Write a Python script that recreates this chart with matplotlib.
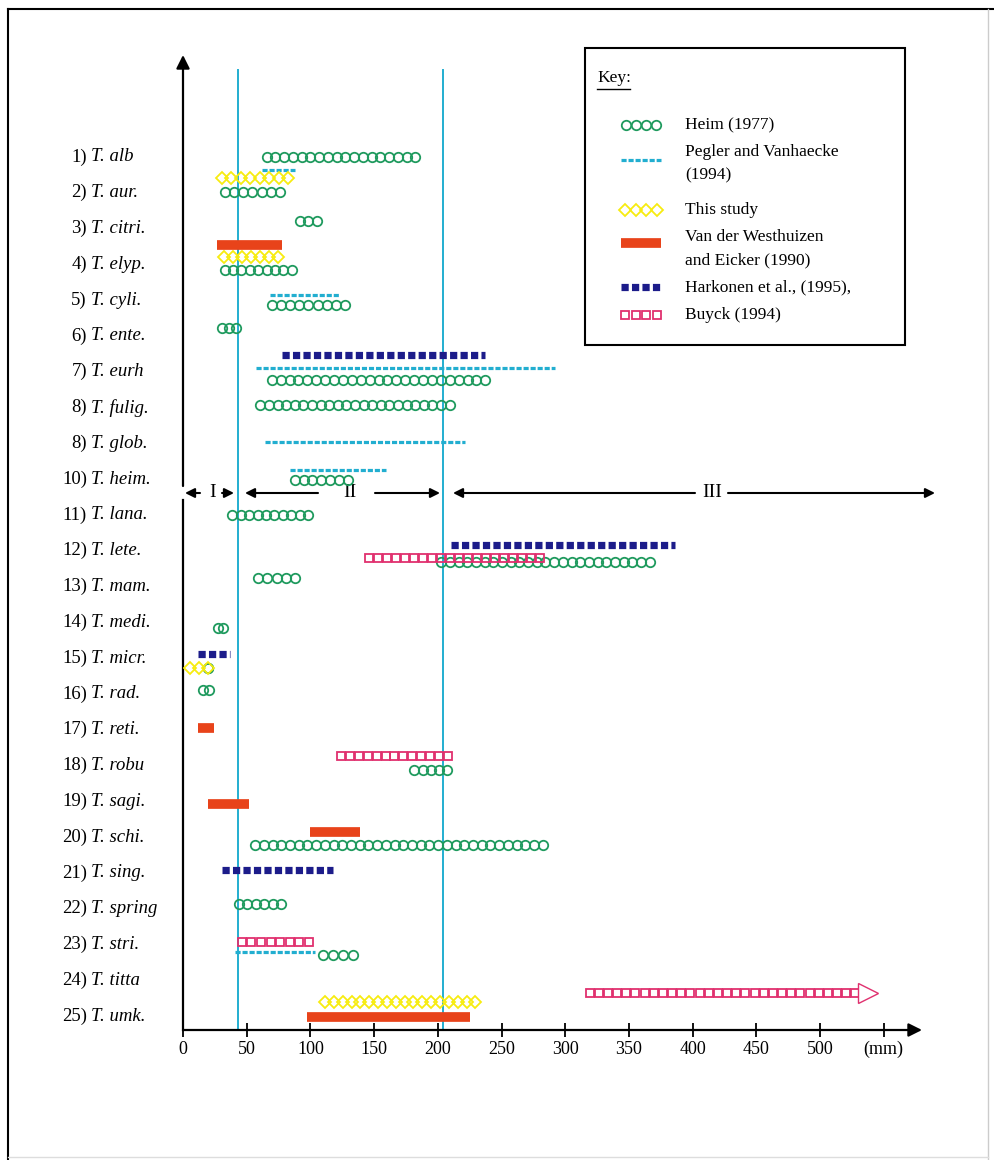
import matplotlib.pyplot as plt
import numpy as np

plt.rcParams['font.family'] = ['Liberation Serif', 'DejaVu Serif']

# species labels (the original figure numbers T. glob. as "8)" too)
numbers = ['1)', '2)', '3)', '4)', '5)', '6)', '7)', '8)', '8)', '10)', '11)', '12)', '13)',
           '14)', '15)', '16)', '17)', '18)', '19)', '20)', '21)', '22)', '23)', '24)', '25)']
species = ['T. alb', 'T. aur.', 'T. citri.', 'T. elyp.', 'T. cyli.', 'T. ente.', 'T. eurh',
           'T. fulig.', 'T. glob.', 'T. heim.', 'T. lana.', 'T. lete.', 'T. mam.', 'T. medi.',
           'T. micr.', 'T. rad.', 'T. reti.', 'T. robu', 'T. sagi.', 'T. schi.', 'T. sing.',
           'T. spring', 'T. stri.', 'T. titta', 'T. umk.']

# size ranges (mm) per source: species number, start, end
heim_rows = [1, 2, 3, 4, 5, 6, 7, 8, 10, 11, 12, 13, 14, 15, 16, 18, 20, 22, 23]
heim_start = [62, 29, 88, 29, 66, 27, 66, 57, 84, 35, 199, 55, 24, 16, 12, 178, 53, 40, 106]
heim_end = [186, 80, 109, 89, 131, 45, 241, 213, 133, 102, 370, 92, 35, 23, 24, 211, 286, 81, 137]

pegler_rows = [1, 5, 7, 9, 10, 23]
pegler_start = [62, 68, 57, 64, 84, 41]
pegler_end = [88, 123, 292, 221, 159, 104]

study_rows = [2, 4, 15, 25]
study_start = [27, 29, 2, 108]
study_end = [86, 78, 23, 233]

vdw_rows = [4, 17, 19, 20, 25]
vdw_start = [27, 12, 20, 100, 97]
vdw_end = [78, 24, 52, 139, 225]

hark_rows = [7, 12, 15, 21]
hark_start = [78, 210, 12, 31]
hark_end = [237, 386, 37, 118]

buyck_rows = [12, 18, 23, 24]
buyck_start = [143, 121, 43, 316]
buyck_end = [283, 211, 102, 531]

# vertical lane of each bar inside its row (fraction of row spacing)
heim_lane = [0, -0.03, -0.2, 0.17, 0.14, -0.22, 0.22, -0.08, 0.03, 0, 0.31, -0.25, 0.17,
             0.28, -0.11, 0.11, 0.22, -0.14, 0.28]
pegler_lane = [0.36, -0.14, -0.11, -0.03, -0.25, 0.2]
study_lane = [-0.42, -0.22, 0.28, -0.39]
vdw_lane = [-0.53, -0.06, 0.08, -0.14, 0.03]
hark_lane = [-0.47, -0.17, -0.11, -0.08]
buyck_lane = [0.2, -0.28, -0.08, 0.34]

zone_lines = [43, 204]
zone_names = ['I', 'II', 'III']

# pixel <-> data helpers (figure is drawn at 100 dpi)
PX_MM = 1.274
X0_PX = 183
ROW_PX = 35.8
ROW1_PX = 157


def mm(px):
    return (px - X0_PX) / PX_MM


def rw(py):
    return 1 + (py - ROW1_PX) / ROW_PX


GREEN = '#1f9a5e'
CYAN = '#22aed0'
YELLOW = '#f7ec10'
RED = '#e8431a'
NAVY = '#1c1c8a'
PINK = '#e0306e'


def chain(ax, x0, x1, y, marker, color, ms, step):
    half = ms * 1.389 / 2 / PX_MM
    a, b = x0 + half, max(x1 - half, x0 + half)
    n = max(1, int(round((b - a) * PX_MM / step))) + 1
    xs = np.linspace(a, b, n)
    ax.plot(xs, np.full(n, y), ls='none', marker=marker, ms=ms, mfc='none',
            mec=color, mew=1.3, zorder=4)


def draw(ax, src, x0, x1, y):
    if src == 'heim':
        chain(ax, x0, x1, y, 'o', GREEN, 6.8, 8.8)
    elif src == 'pegler':
        ax.plot([x0, x1], [y, y], color=CYAN, lw=2.3, dashes=(1.6, 0.6),
                dash_capstyle='butt', zorder=4)
    elif src == 'study':
        chain(ax, x0, x1, y, 'D', YELLOW, 6.3, 9.0)
    elif src == 'vdw':
        ax.plot([x0, x1], [y, y], color=RED, lw=7, solid_capstyle='butt', zorder=4)
    elif src == 'hark':
        ax.plot([x0, x1], [y, y], color=NAVY, lw=5.2, dashes=(1.0, 0.45),
                dash_capstyle='butt', zorder=4)
    elif src == 'buyck':
        chain(ax, x0, x1, y, 's', PINK, 5.8, 9.2)


fig = plt.figure(figsize=(9.94, 11.6), dpi=100)
ax = fig.add_axes([X0_PX / 994, (1160 - 1030) / 1160, 767 / 994, 990 / 1160])
ax.set_xlim(0, mm(950))
ax.set_ylim(rw(1030), rw(40))
for s in ax.spines.values():
    s.set_visible(False)
ax.patch.set_visible(False)

sources = [
    ('heim', heim_rows, heim_start, heim_end, heim_lane),
    ('pegler', pegler_rows, pegler_start, pegler_end, pegler_lane),
    ('study', study_rows, study_start, study_end, study_lane),
    ('vdw', vdw_rows, vdw_start, vdw_end, vdw_lane),
    ('hark', hark_rows, hark_start, hark_end, hark_lane),
    ('buyck', buyck_rows, buyck_start, buyck_end, buyck_lane),
]
for src, rows, starts, ends, lanes in sources:
    for r, a, b, d in zip(rows, starts, ends, lanes):
        draw(ax, src, a, b, r + d)

# open arrow head: T. titta range continues beyond the scale
i = buyck_rows.index(24)
ax.plot(buyck_end[i] + mm(X0_PX + 9), 24 + buyck_lane[i], marker='>', ms=15, mfc='white',
        mec=PINK, mew=1, zorder=4)

# zone boundaries
ybot = rw(1030)
for xv in zone_lines:
    ax.plot([xv, xv], [ybot, rw(70)], color=CYAN, lw=1.4, zorder=3)

# axes with arrows
arrow = dict(arrowstyle='-|>', color='black', lw=1.6, mutation_scale=20, shrinkA=0, shrinkB=0)
ax.annotate('', xy=(mm(922), ybot), xytext=(0, ybot), arrowprops=arrow, annotation_clip=False)
ax.plot([0, 0], [ybot, rw(500)], color='black', lw=1.6, clip_on=False)
ax.annotate('', xy=(0, rw(55)), xytext=(0, rw(486)), arrowprops=arrow, annotation_clip=False)

ticks = [0, 50, 100, 150, 200, 250, 300, 350, 400, 450, 500, 550]
ax.set_xticks(ticks, [str(t) for t in ticks[:-1]] + ['(mm)'])
ax.tick_params(axis='x', direction='inout', length=10, width=1.3, labelsize=13, pad=3)
ax.tick_params(axis='y', left=False, labelleft=False)

# row labels
for k, (num, name) in enumerate(zip(numbers, species)):
    ax.text(mm(87), k + 1, num, ha='right', va='center', fontsize=13.5, clip_on=False)
    ax.text(mm(91), k + 1, name, ha='left', va='center', fontsize=13.5,
            style='italic', clip_on=False)

# zone arrows
yz = rw(493)
small = dict(arrowstyle='-|>', color='black', lw=1.5, mutation_scale=14, shrinkA=0, shrinkB=0)
zone_arrows = [(mm(200), mm(185)), (mm(222), mm(234)),
               (mm(318), mm(245)), (mm(375), mm(440)),
               (mm(695), mm(453)), (mm(728), mm(935))]
for tail, tip in zone_arrows:
    ax.annotate('', xy=(tip, yz), xytext=(tail, yz), arrowprops=small, annotation_clip=False)
for name, px in zip(zone_names, [213, 350, 712]):
    ax.text(mm(px), yz, name, ha='center', va='center', fontsize=14)

# key
ax.add_patch(plt.Rectangle((mm(585), rw(48)), mm(905) - mm(585), rw(345) - rw(48),
                           fill=False, ec='black', lw=1.5, zorder=5))
ax.text(mm(597), rw(78), 'Key:', ha='left', va='center', fontsize=12.5)
ax.plot([mm(597), mm(630)], [rw(89), rw(89)], color='black', lw=1)
key = [('heim', 125, ['Heim (1977)'], [125]),
       ('pegler', 160, ['Pegler and Vanhaecke', '(1994)'], [152, 175]),
       ('study', 210, ['This study'], [210]),
       ('vdw', 243, ['Van der Westhuizen', 'and Eicker (1990)'], [237, 260]),
       ('hark', 287, ['Harkonen et al., (1995),'], [287]),
       ('buyck', 315, ['Buyck (1994)'], [315])]
for src, py, lines, lys in key:
    draw(ax, src, mm(621), mm(661), rw(py))
    for t, ly in zip(lines, lys):
        ax.text(mm(685), rw(ly), t, ha='left', va='center', fontsize=12.5)

# page frame
fig.add_artist(plt.Line2D([8 / 994, 8 / 994], [0, 1 - 9 / 1160], color='black', lw=1.5))
fig.add_artist(plt.Line2D([8 / 994, 1], [1 - 9 / 1160, 1 - 9 / 1160], color='black', lw=1.5))
fig.add_artist(plt.Line2D([988 / 994, 988 / 994], [0, 1 - 9 / 1160], color='#cccccc', lw=1))
fig.add_artist(plt.Line2D([8 / 994, 988 / 994], [3 / 1160, 3 / 1160], color='#dddddd', lw=1))

fig.savefig('out.png', dpi=100, facecolor='white')
